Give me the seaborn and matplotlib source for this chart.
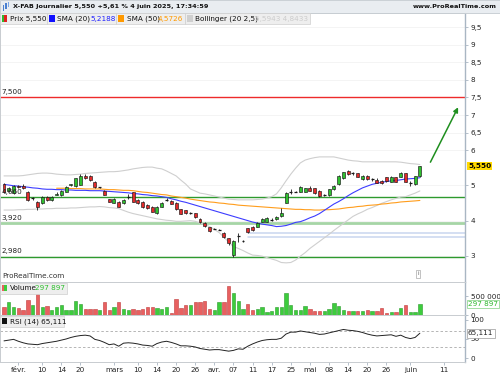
import numpy as np
import pandas as pd
import matplotlib
matplotlib.use("Agg")
import matplotlib.pyplot as plt
import matplotlib.transforms as mtransforms
from matplotlib.patches import Rectangle
import seaborn as sns

# ---------------- data ----------------
holidays = ["2025-04-18", "2025-04-21", "2025-05-01"]
first_day, last_day = "2025-01-29", "2025-06-04"

open_ = [5.04,4.84,4.79,4.98,4.98,4.81,4.63,4.53,4.50,4.67,
         4.59,4.74,4.73,4.82,5.01,4.98,5.01,5.28,5.27,5.11,
         4.95,4.85,4.60,4.51,4.54,4.49,4.68,4.80,4.59,4.54,
         4.44,4.40,4.22,4.40,4.58,4.57,4.51,4.32,4.30,4.22,
         4.21,4.04,3.94,3.81,3.77,3.74,3.66,3.50,3.02,3.54,
         3.43,3.78,3.82,3.83,3.97,3.97,4.03,4.05,4.13,4.51,
         4.82,4.82,4.82,4.82,4.93,4.92,4.85,4.73,4.73,4.89,
         5.04,5.20,5.42,5.34,5.34,5.17,5.27,5.17,5.15,5.13,
         5.23,5.11,5.23,5.25,5.34,5.06,5.04,5.27]
high = [5.08,4.95,5.02,5.00,5.03,4.83,4.67,4.55,4.69,4.70,
        4.69,4.80,4.87,4.98,5.05,5.22,5.32,5.33,5.30,5.12,
        4.96,4.86,4.62,4.63,4.56,4.60,4.75,4.82,4.61,4.55,
        4.46,4.41,4.41,4.53,4.63,4.58,4.53,4.34,4.31,4.24,
        4.23,4.06,3.96,3.82,3.79,3.76,3.68,3.52,3.45,3.64,
        3.45,3.80,3.84,3.96,4.06,4.10,4.08,4.13,4.36,4.80,
        4.90,4.84,4.97,4.94,4.97,4.94,4.87,4.75,4.91,5.00,
        5.29,5.39,5.45,5.38,5.36,5.29,5.30,5.21,5.20,5.15,
        5.25,5.27,5.25,5.39,5.36,5.12,5.26,5.56]
low = [4.78,4.80,4.77,4.92,4.90,4.57,4.58,4.30,4.48,4.57,
       4.57,4.72,4.71,4.80,4.99,4.96,5.00,5.19,5.13,4.94,
       4.94,4.72,4.53,4.49,4.38,4.47,4.62,4.52,4.48,4.36,
       4.34,4.24,4.20,4.38,4.55,4.46,4.31,4.18,4.20,4.20,
       4.08,3.94,3.83,3.68,3.75,3.72,3.52,3.30,2.98,3.40,
       3.40,3.66,3.70,3.81,3.95,3.95,3.99,4.03,4.11,4.49,
       4.76,4.80,4.80,4.80,4.83,4.76,4.68,4.71,4.71,4.87,
       5.02,5.18,5.30,5.30,5.24,5.15,5.15,5.13,5.07,5.04,
       5.11,5.09,5.09,5.23,5.09,4.99,5.02,5.25]
close = [4.82,4.92,4.99,4.96,4.92,4.59,4.63,4.39,4.67,4.59,
         4.67,4.76,4.85,4.96,5.03,5.21,5.28,5.20,5.15,4.95,
         4.95,4.73,4.54,4.61,4.40,4.59,4.68,4.54,4.50,4.38,
         4.36,4.25,4.40,4.51,4.59,4.47,4.32,4.19,4.21,4.22,
         4.09,3.95,3.84,3.70,3.77,3.74,3.54,3.36,3.43,3.55,
         3.43,3.67,3.72,3.94,4.05,4.08,4.03,4.11,4.21,4.78,
         4.82,4.82,4.95,4.92,4.85,4.78,4.70,4.73,4.89,4.98,
         5.27,5.37,5.32,5.34,5.25,5.27,5.17,5.17,5.08,5.06,
         5.13,5.25,5.11,5.36,5.11,5.06,5.255,5.55]
volume = [207e3,342e3,207e3,180e3,135e3,405e3,270e3,567e3,207e3,243e3,
          135e3,207e3,261e3,135e3,135e3,378e3,288e3,162e3,162e3,162e3,
          135e3,342e3,135e3,207e3,360e3,153e3,135e3,153e3,135e3,153e3,
          207e3,207e3,180e3,153e3,207e3,63e3,423e3,180e3,270e3,261e3,
          342e3,342e3,387e3,162e3,135e3,342e3,345e3,783e3,585e3,387e3,
          162e3,297e3,135e3,153e3,207e3,90e3,117e3,207e3,207e3,585e3,
          270e3,135e3,135e3,243e3,153e3,108e3,108e3,108e3,153e3,315e3,
          243e3,135e3,108e3,108e3,108e3,108e3,135e3,108e3,108e3,180e3,
          63e3,72e3,72e3,180e3,270e3,72e3,72e3,297897]
sma20 = [5.03,5.01,4.99,4.98,4.96,4.95,4.93,4.92,4.90,4.89,
         4.89,4.88,4.88,4.87,4.87,4.86,4.86,4.86,4.85,4.85,
         4.85,4.84,4.83,4.82,4.81,4.80,4.79,4.77,4.76,4.74,
         4.73,4.71,4.70,4.68,4.66,4.62,4.59,4.55,4.52,4.48,
         4.44,4.40,4.36,4.32,4.28,4.24,4.20,4.16,4.12,4.08,
         4.04,4.00,3.96,3.93,3.90,3.88,3.86,3.83,3.84,3.86,
         3.90,3.95,3.97,4.02,4.08,4.13,4.20,4.29,4.38,4.47,
         4.54,4.62,4.71,4.79,4.86,4.93,4.98,5.03,5.06,5.09,
         5.11,5.13,5.14,5.16,5.18,5.19,5.20,5.2188]
sma50_start = 11
sma50 = [4.92,4.92,4.92,4.91,4.91,4.91,4.90,4.90,4.90,
         4.90,4.89,4.88,4.88,4.87,4.86,4.86,4.85,4.83,4.81,
         4.80,4.78,4.76,4.74,4.73,4.70,4.68,4.66,4.64,4.61,
         4.59,4.57,4.55,4.53,4.52,4.50,4.49,4.47,4.46,4.44,
         4.43,4.42,4.41,4.40,4.39,4.38,4.37,4.36,4.35,4.34,
         4.33,4.32,4.32,4.31,4.31,4.30,4.30,4.31,4.31,4.32,
         4.33,4.35,4.37,4.38,4.40,4.41,4.43,4.44,4.45,4.47,
         4.48,4.50,4.51,4.53,4.54,4.55,4.56,4.5726]
boll_up = [5.27,5.27,5.27,5.27,5.28,5.30,5.32,5.34,5.35,5.35,
           5.34,5.32,5.31,5.30,5.30,5.31,5.32,5.34,5.35,5.36,
           5.37,5.38,5.39,5.39,5.40,5.42,5.44,5.47,5.49,5.51,
           5.52,5.52,5.49,5.47,5.41,5.34,5.27,5.15,5.04,4.90,
           4.84,4.78,4.76,4.73,4.70,4.67,4.64,4.61,4.60,4.59,
           4.59,4.59,4.59,4.60,4.61,4.64,4.68,4.76,4.93,5.13,
           5.32,5.49,5.64,5.72,5.76,5.79,5.81,5.81,5.81,5.81,
           5.78,5.75,5.72,5.70,5.69,5.67,5.67,5.67,5.67,5.67,
           5.67,5.67,5.67,5.66,5.64,5.62,5.61,5.5943]
boll_lo = [4.30,4.30,4.30,4.31,4.31,4.32,4.32,4.33,4.33,4.34,
           4.34,4.35,4.35,4.35,4.36,4.36,4.37,4.38,4.39,4.39,
           4.40,4.39,4.37,4.36,4.34,4.29,4.24,4.20,4.17,4.14,
           4.11,4.08,4.05,4.03,4.01,4.00,3.98,3.98,3.99,4.00,
           3.98,3.93,3.89,3.83,3.75,3.66,3.53,3.39,3.26,3.21,
           3.15,3.08,3.02,3.01,2.99,2.95,2.91,2.87,2.81,2.80,
           2.81,2.88,2.99,3.09,3.21,3.31,3.41,3.51,3.61,3.72,
           3.82,3.92,4.02,4.12,4.19,4.25,4.32,4.37,4.43,4.49,
           4.54,4.59,4.63,4.67,4.68,4.73,4.78,4.8433]
rsi = [45,47,49,44,40,37,36,35,38,40,
       42,44,47,50,54,57,59,60,58,49,
       46,41,35,37,31,39,40,39,37,34,
       33,31,38,42,44,41,37,32,32,31,
       29,25,23,21,22,22,20,18,20,24,
       23,31,37,42,46,48,49,49,52,63,
       68,68,71,69,67,65,62,63,66,69,
       72,75,73,72,70,67,63,60,58,59,
       60,61,57,60,54,51,54,65.111]

level_values = [7.5, 4.66, 3.92, 2.98]
level_labels = ["7,500", "4,660", "3,920", "2,980"]
zone_values = [3.64, 3.53]
zone_start = "2025-04-10"

tick_dates = ["2025-02-03","2025-02-10","2025-02-14","2025-02-20","2025-03-03",
              "2025-03-10","2025-03-14","2025-03-20","2025-03-26","2025-04-01",
              "2025-04-07","2025-04-11","2025-04-17","2025-04-25","2025-05-02",
              "2025-05-08","2025-05-14","2025-05-20","2025-05-26","2025-06-02",
              "2025-06-11"]
tick_labels = ["févr.","10","14","20","mars","10","14","20","26","avr.",
               "07","11","17","25","mai","08","14","20","26","juin","11"]
price_ticks = [3, 4, 5, 6, 6.5, 7, 7.5, 8, 8.5, 9, 9.5]
price_tick_labels = ["3","4","5","6","6,5","7","7,5","8","8,5","9","9,5"]

# ---------------- calendar ----------------
cal = [d for d in pd.bdate_range(first_day, "2025-06-30")
       if d.strftime("%Y-%m-%d") not in holidays]
pos = {d.strftime("%Y-%m-%d"): k for k, d in enumerate(cal)}
n = len(open_)
idx = np.arange(n)

# ---------------- style ----------------
sns.set_theme(style="white")
plt.rcParams["font.family"] = ["DejaVu Sans"]
FS = 5.2
W, H = 500, 375
fig = plt.figure(figsize=(5, 3.75), dpi=100)
fig.patch.set_facecolor("white")

GREEN = "#2fc02f"
RED = "#e22a2a"
AXCOL = "#a9b6c3"

def add_ax(top, bottom):
    return fig.add_axes([0, 1 - bottom / H, 465 / W, (bottom - top) / H])

ax_p = add_ax(13, 282)
ax_v = add_ax(282, 315)
ax_r = add_ax(315, 362)
XL = (-0.84, 96.44)

for ax in (ax_p, ax_v, ax_r):
    ax.set_xlim(*XL)
    ax.set_facecolor("white")
    for s in ("left", "top", "bottom"):
        ax.spines[s].set_color("#c8ccd0")
        ax.spines[s].set_linewidth(0.7)
    ax.spines["right"].set_color(AXCOL)
    ax.spines["right"].set_linewidth(1.0)
    ax.yaxis.tick_right()
    ax.tick_params(axis="y", which="both", right=True, length=2.5, width=0.6,
                   color=AXCOL, labelsize=FS, pad=1.5, labelcolor="#222222")
    ax.tick_params(axis="x", bottom=False, labelbottom=False)
    ax.grid(False)

# ---------------- price panel ----------------
ax_p.set_ylim(2.256, 9.898)
ax_p.set_yticks(price_ticks)
ax_p.set_yticklabels(price_tick_labels)
for t in price_ticks:
    ax_p.axhline(t, color="#f3f3f3", lw=0.6, zorder=0)

lvl_style = {7.5: ("#ee2b2b", 1.0), 4.66: ("#2e9a2e", 1.0),
             3.92: ("#a6d5a6", 2.0), 2.98: ("#2e9a2e", 1.0)}
for v, lab in zip(level_values, level_labels):
    c, lw = lvl_style[v]
    ax_p.axhline(v, color=c, lw=lw, zorder=1)
    ax_p.text(-0.55, v + 0.07, lab, fontsize=FS, va="bottom", ha="left",
              color="#222222", zorder=6)
zs = pos[zone_start]
for v in zone_values:
    ax_p.plot([zs, XL[1]], [v, v], color="#c9d6ef", lw=1.1, zorder=1)

sns.lineplot(x=idx, y=boll_up, ax=ax_p, color="#cfcfcf", lw=0.8, legend=False, zorder=2)
sns.lineplot(x=idx, y=boll_lo, ax=ax_p, color="#cfcfcf", lw=0.8, legend=False, zorder=2)
sns.lineplot(x=np.arange(sma50_start, sma50_start + len(sma50)), y=sma50, ax=ax_p,
             color="#ff9d1c", lw=0.8, legend=False, zorder=3)
sns.lineplot(x=idx, y=sma20, ax=ax_p, color="#3c3cff", lw=0.8, legend=False, zorder=3)

bw = 0.62
for i in range(n):
    o, h, l, c = open_[i], high[i], low[i], close[i]
    ax_p.vlines(i, l, h, color="#1a1a1a", lw=0.6, zorder=4)
    if abs(c - o) < 0.012:
        ax_p.hlines(c, i - bw / 2, i + bw / 2, color="#1a1a1a", lw=0.9, zorder=5)
    else:
        col = GREEN if c > o else RED
        ax_p.add_patch(Rectangle((i - bw / 2, min(o, c)), bw, abs(c - o),
                                 facecolor=col, edgecolor="#1a1a1a", lw=0.45, zorder=5))

ax_p.annotate("", xy=(95.0, 7.22), xytext=(89.2, 5.66),
              arrowprops=dict(arrowstyle="-|>", color="#1f8f1f", lw=1.1,
                              mutation_scale=7, shrinkA=0, shrinkB=0), zorder=6)

trans_p = mtransforms.blended_transform_factory(ax_p.transAxes, ax_p.transData)
ax_p.text(1.0 + 3 / 465, close[-1], "5,550", transform=trans_p, fontsize=FS,
          fontweight="bold", va="center", ha="left", color="black",
          bbox=dict(boxstyle="square,pad=0.18", fc="#ffd900", ec="none"), zorder=7)

ax_p.text(0.004, 0.022, "ProRealTime.com", transform=ax_p.transAxes, fontsize=FS,
          color="#333333", va="center", ha="left")
ax_p.text(418 / 465, 0.03, "i", transform=ax_p.transAxes, fontsize=4.2,
          color="#666666", va="center", ha="center",
          bbox=dict(boxstyle="square,pad=0.25", fc="white", ec="#aaaaaa", lw=0.5))

# ---------------- volume panel ----------------
ax_v.set_ylim(0, 891000)
vcols = ["#3dcc3d" if close[i] >= open_[i] else "#e86060" for i in range(n)]
vedge = ["#2a9a2a" if close[i] >= open_[i] else "#c03a3a" for i in range(n)]
ax_v.bar(idx, volume, width=0.7, color=vcols, edgecolor=vedge, lw=0.4, zorder=3)
ax_v.set_yticks([0, 500000])
ax_v.set_yticklabels(["0", "500 000"])
trans_v = mtransforms.blended_transform_factory(ax_v.transAxes, ax_v.transData)
ax_v.text(1.0 + 3 / 465, volume[-1], "297 897", transform=trans_v, fontsize=FS,
          va="center", ha="left", color="#2fb82f",
          bbox=dict(boxstyle="square,pad=0.18", fc="white", ec="#7fd07f", lw=0.5), zorder=7)

# ---------------- RSI panel ----------------
ax_r.set_ylim(-10.5, 113)
sns.lineplot(x=idx, y=rsi, ax=ax_r, color="#222222", lw=0.7, legend=False, zorder=3)
for lv in (70, 30):
    ax_r.axhline(lv, color="#aaaaaa", lw=0.6, ls=(0, (3, 2.5)), zorder=1)
ax_r.set_yticks([0, 50, 100])
ax_r.set_yticklabels(["0", "50", "100"])
trans_r = mtransforms.blended_transform_factory(ax_r.transAxes, ax_r.transData)
ax_r.text(1.0 + 3 / 465, rsi[-1], "65,111", transform=trans_r, fontsize=FS,
          va="center", ha="left", color="#222222",
          bbox=dict(boxstyle="square,pad=0.18", fc="white", ec="#999999", lw=0.5), zorder=7)
ax_r.set_xticks([pos[d] for d in tick_dates])
ax_r.set_xticklabels(tick_labels)
ax_r.tick_params(axis="x", bottom=True, labelbottom=True, length=2, width=0.6,
                 color=AXCOL, labelsize=FS, pad=1.5, labelcolor="#222222")

# ---------------- header & legends ----------------
def rect_px(x, y, w, h, **kw):
    fig.patches.append(Rectangle((x / W, 1 - (y + h) / H), w / W, h / H,
                                 transform=fig.transFigure, **kw))

def text_px(x, y, s, **kw):
    fig.text(x / W, 1 - y / H, s, va="center", ha=kw.pop("ha", "left"), **kw)

rect_px(0, 0, 500, 13, facecolor="#e9edf1", edgecolor="#c4cad0", lw=0.6, zorder=10)
for xi, (y0, y1, col) in enumerate([(5, 11, "#4a7fd0"), (3, 9, "#4a7fd0"), (2, 7, "#7aa6e6")]):
    rect_px(2.5 + xi * 2.6, y0, 1.6, y1 - y0, facecolor=col, edgecolor="none", zorder=11)
text_px(13, 6.8, "X-FAB Journalier 5,550 +5,61 % 4 juin 2025, 17:34:59",
        fontsize=4.65, fontweight="bold", color="#111111", zorder=12)
text_px(497, 6.8, "www.ProRealTime.com", ha="right", fontsize=4.65,
        fontweight="bold", color="#111111", zorder=12)

for (x0, x1) in [(0, 46.5), (47, 115.5), (116, 184.5), (185, 310)]:
    rect_px(x0, 13.5, x1 - x0, 10.5, facecolor="#eeeeee", edgecolor="#cfcfcf", lw=0.5, zorder=10)
rect_px(1.5, 15.5, 2.5, 6, facecolor="#2fb82f", edgecolor="none", zorder=11)
rect_px(4, 15.5, 2.5, 6, facecolor="#e02020", edgecolor="none", zorder=11)
text_px(10, 19, "Prix 5,550", fontsize=FS, color="#111111", zorder=12)
rect_px(48.5, 15.5, 6, 6, facecolor="#1010ff", edgecolor="none", zorder=11)
text_px(57, 19, "SMA (20)", fontsize=FS, color="#111111", zorder=12)
text_px(90, 19, "5,2188", fontsize=FS, color="#2020ff", zorder=12)
rect_px(117.5, 15.5, 6, 6, facecolor="#ff9900", edgecolor="none", zorder=11)
text_px(127, 19, "SMA (50)", fontsize=FS, color="#111111", zorder=12)
text_px(158, 19, "4,5726", fontsize=FS, color="#ff9900", zorder=12)
rect_px(186.5, 15.5, 6, 6, facecolor="#cfcfcf", edgecolor="none", zorder=11)
text_px(195, 19, "Bollinger (20 2,5)", fontsize=FS, color="#111111", zorder=12)
text_px(255, 19, "5,5943 4,8433", fontsize=FS, color="#cccccc", zorder=12)

rect_px(0, 282.5, 67, 11, facecolor="#eeeeee", edgecolor="#cfcfcf", lw=0.5, zorder=10)
rect_px(1.5, 285, 2.5, 6, facecolor="#e86060", edgecolor="none", zorder=11)
rect_px(4, 285, 2.5, 6, facecolor="#3dcc3d", edgecolor="none", zorder=11)
text_px(10, 288.5, "Volume", fontsize=FS, color="#111111", zorder=12)
text_px(35, 288.5, "297 897", fontsize=FS, color="#2fc02f", zorder=12)

rect_px(0, 315.5, 64, 11, facecolor="#eeeeee", edgecolor="#cfcfcf", lw=0.5, zorder=10)
rect_px(1.5, 318, 5, 6, facecolor="#111111", edgecolor="none", zorder=11)
text_px(10, 321.5, "RSI (14) 65,111", fontsize=FS, color="#111111", zorder=12)

fig.savefig("out.png", dpi=100, facecolor="white")
